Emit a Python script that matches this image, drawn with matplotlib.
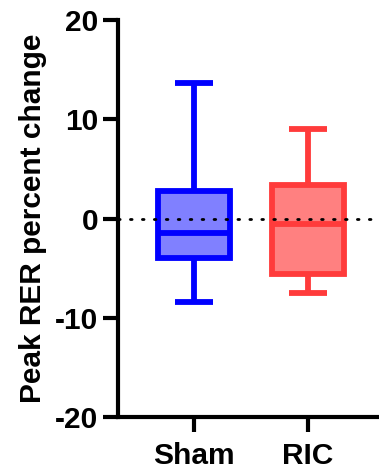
import matplotlib
matplotlib.use('Agg')
import matplotlib.pyplot as plt

plt.rcParams['font.family'] = ['Liberation Sans', 'DejaVu Sans']
plt.rcParams['font.weight'] = 'bold'
plt.rcParams['axes.unicode_minus'] = False

# box summary values
groups = ['Sham', 'RIC']
whisker_low = [-8.4, -7.5]
q1 = [-4.0, -5.6]
median = [-1.5, -0.6]
q3 = [2.8, 3.4]
whisker_high = [13.7, 9.0]
edge_colors = ['#0000FF', '#FF3B3B']
fill_colors = ['#8080FF', '#FF8080']
yticks = [-20, -10, 0, 10, 20]

fig = plt.figure(figsize=(3.79, 4.71), dpi=100)
ax = fig.add_axes([0.311, 0.1146, 0.689, 0.8429])

stats = []
for i, g in enumerate(groups):
    stats.append({'label': g, 'med': median[i], 'q1': q1[i], 'q3': q3[i],
                  'whislo': whisker_low[i], 'whishi': whisker_high[i], 'fliers': []})

# zero reference line
ax.axhline(0, color='black', lw=2.0, ls=(0, (0.6, 3.7)), dash_capstyle='round', zorder=3)

for i, s in enumerate(stats):
    c = edge_colors[i]
    ax.bxp([s], positions=[i], widths=0.63, patch_artist=True, showfliers=False,
           boxprops=dict(facecolor=fill_colors[i], edgecolor=c, linewidth=4.2, joinstyle='miter'),
           medianprops=dict(color=c, linewidth=4.2, solid_capstyle='butt'),
           whiskerprops=dict(color=c, linewidth=4.2, solid_capstyle='butt'),
           capprops=dict(color=c, linewidth=4.2, solid_capstyle='butt'),
           capwidths=0.33)

ax.set_xlim(-0.667, 1.623)
ax.set_ylim(-20, 20)
ax.set_yticks(yticks)
ax.set_xticks(range(len(groups)))
ax.set_xticklabels(groups, fontsize=21.5, fontweight='bold')
ax.tick_params(axis='y', labelsize=21.5, width=3, length=11, pad=3)
ax.tick_params(axis='x', width=3, length=11, pad=7)
for lab in ax.get_yticklabels():
    lab.set_fontweight('bold')
ax.set_ylabel('Peak RER percent change', fontsize=21.5, fontweight='bold', labelpad=6)

ax.spines['top'].set_visible(False)
ax.spines['right'].set_visible(False)
ax.spines['left'].set_linewidth(3)
ax.spines['bottom'].set_linewidth(3)

fig.savefig('out.png', dpi=100)
